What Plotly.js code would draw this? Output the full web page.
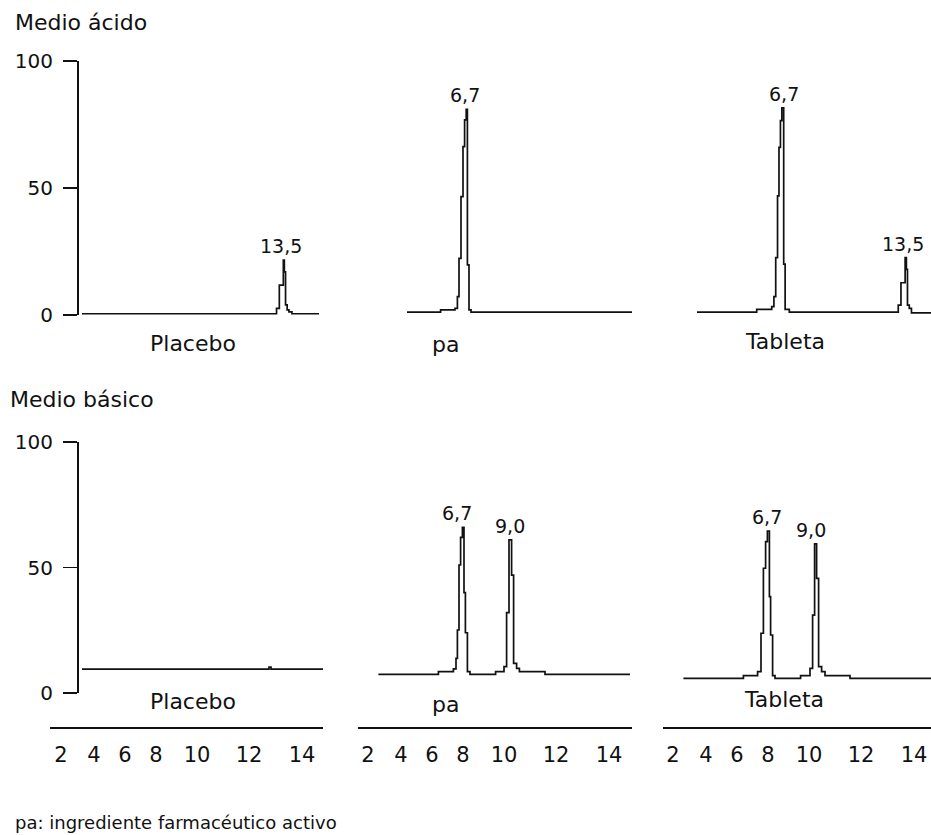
<!DOCTYPE html>
<html>
<head>
<meta charset="utf-8">
<script src="https://cdn.plot.ly/plotly-3.0.1.min.js"></script>
<style>html,body{margin:0;padding:0;background:#fff;}#chart{width:931px;height:835px;}</style>
</head>
<body>
<div id="chart"></div>
<script>
// ---- Data (retention time vs. relative response) ----
// Medio ácido
const acidPlaceboX = [3.42, 13.13, 13.27, 13.47, 13.52, 13.58, 13.66, 13.75, 13.9, 15.25];
const acidPlaceboY = [0.5, 2.6, 11.8, 21.6, 17, 4, 2, 1.2, 0.5, 0.5];
const acidPaX = [3.7, 5.38, 6.1, 6.22, 6.3, 6.4, 6.5, 6.58, 6.66, 6.72, 6.8, 6.9, 14.95];
const acidPaY = [1.1, 2.0, 2.6, 7.2, 22.3, 46.6, 66.3, 76.8, 81, 19.7, 2.0, 1.1, 1.1];
const acidTabX = [1.95, 5.25, 6.08, 6.2, 6.3, 6.4, 6.48, 6.56, 6.64, 6.74, 6.82, 7.05, 13.07, 13.22, 13.45, 13.52, 13.58, 13.68, 13.8, 14.88];
const acidTabY = [1.1, 2.2, 3.3, 7.2, 22.6, 46.9, 66, 76.5, 81.6, 20, 2.2, 1.1, 3.9, 12.7, 22.6, 18, 3.9, 2.6, 0.8, 0.8];
// Medio básico
const basicPlaceboX = [3.05, 12.4, 12.5, 15.55];
const basicPlaceboY = [9.5, 10.3, 9.5, 9.5];
const basicPaX = [2.52, 5.52, 6.27, 6.4, 6.47, 6.55, 6.63, 6.72, 6.8, 6.87, 6.97, 7.1, 8.38, 8.8, 8.93, 9.05, 9.18, 9.28, 9.43, 9.57, 10.85, 15.1];
const basicPaY = [7.4, 8.5, 9.6, 13.8, 25.1, 51, 62, 66, 40, 24, 8.5, 7.4, 8.5, 10.5, 32, 61, 47, 11.8, 9.8, 8.5, 7.4, 7.4];
const basicTabX = [2.52, 5.52, 6.23, 6.4, 6.52, 6.63, 6.72, 6.82, 6.88, 6.98, 7.1, 8.38, 8.85, 8.98, 9.08, 9.18, 9.28, 9.43, 9.6, 10.85, 14.9];
const basicTabY = [5.8, 6.9, 8.5, 23.8, 49.7, 60.3, 64.5, 38.4, 23.1, 6.9, 5.8, 6.9, 9.8, 31, 59.4, 45.7, 10.5, 8.5, 6.9, 5.8, 5.8];

// Peak labels
const peakLabelText = ['13,5', '6,7', '6,7', '13,5', '6,7', '9,0', '6,7', '9,0'];
const peakLabelAxis = ['', '2', '3', '3', '5', '5', '6', '6'];
const peakLabelX = [13.5, 6.7, 6.7, 13.5, 6.7, 9.0, 6.7, 9.0];
const peakLabelY = [21.6, 81, 81.6, 22.6, 66, 61, 64.5, 59.4];

// Axis ticks
const yTickVals = [0, 50, 100];
const yTickText = ['0', '50', '100'];
const xTickVals = [2, 3.65, 5.2, 6.75, 8.8, 11.4, 14.05];
const xTickText = ['2', '4', '6', '8', '10', '12', '14'];

// Panel and section titles
const panelNames = ['Placebo', 'pa', 'Tableta'];
const sectionTitles = ['Medio ácido', 'Medio básico'];
const footnote = 'pa: ingrediente farmacéutico activo';

// ---- Layout helpers (pixel -> paper) ----
const W = 931, H = 835;
const px = v => v / W;
const py = v => 1 - v / H;
const FONT = 'DejaVu Sans, Verdana, sans-serif';
const INK = '#111';

const line = {color: INK, width: 1.7, shape: 'hv'};
const traces = [
  {x: acidPlaceboX, y: acidPlaceboY, xaxis: 'x', yaxis: 'y'},
  {x: acidPaX, y: acidPaY, xaxis: 'x2', yaxis: 'y2'},
  {x: acidTabX, y: acidTabY, xaxis: 'x3', yaxis: 'y3'},
  {x: basicPlaceboX, y: basicPlaceboY, xaxis: 'x4', yaxis: 'y4'},
  {x: basicPaX, y: basicPaY, xaxis: 'x5', yaxis: 'y5'},
  {x: basicTabX, y: basicTabY, xaxis: 'x6', yaxis: 'y6'}
].map(t => Object.assign({type: 'scatter', mode: 'lines', line: line, hoverinfo: 'x+y'}, t));

const topDom = [py(315), py(61)];
const botDom = [py(693), py(442)];

const hiddenX = (d, r) => ({domain: d, range: r, visible: false, fixedrange: true});
const tickX = (d, r) => ({
  domain: d, range: r, anchor: 'free', position: py(727),
  showline: true, linecolor: INK, linewidth: 1.7,
  showgrid: false, zeroline: false, ticks: '',
  tickvals: xTickVals, ticktext: xTickText,
  tickfont: {family: FONT, size: 21, color: INK},
  ticklabelstandoff: 8
});
const shownY = d => ({
  domain: d, range: [0, 100], anchor: 'free', position: px(77),
  showline: true, linecolor: INK, linewidth: 1.7,
  showgrid: false, zeroline: false,
  ticks: 'outside', ticklen: 14, tickwidth: 1.7, tickcolor: INK,
  tickvals: yTickVals, ticktext: yTickText,
  tickfont: {family: FONT, size: 20, color: INK},
  ticklabelstandoff: 6
});
const hiddenY = d => ({domain: d, range: [0, 100], visible: false});

const peakShift = [-3, -2, 1, -3, -5, 2, 0, -2];
const annotations = [];
peakLabelText.forEach((t, i) => {
  annotations.push({
    xref: 'x' + peakLabelAxis[i], yref: 'y' + peakLabelAxis[i],
    x: peakLabelX[i], y: peakLabelY[i], text: t, showarrow: false,
    xanchor: 'center', yanchor: 'bottom', yshift: 1, xshift: peakShift[i],
    font: {family: FONT, size: 19, color: INK}
  });
});
const paperText = (text, x, y, xanchor, size) => ({
  xref: 'paper', yref: 'paper', x: px(x), y: py(y), text: text, showarrow: false,
  xanchor: xanchor, yanchor: 'middle', font: {family: FONT, size: size, color: INK}
});
annotations.push(paperText(sectionTitles[0], 13, 23, 'left', 22));
annotations.push(paperText(sectionTitles[1], 8, 399, 'left', 22));
annotations.push(paperText(panelNames[0], 193, 343, 'center', 22));
annotations.push(paperText(panelNames[1], 445, 344, 'center', 22));
annotations.push(paperText(panelNames[2], 785, 341, 'center', 22));
annotations.push(paperText(panelNames[0], 193, 701, 'center', 22));
annotations.push(paperText(panelNames[1], 445, 704, 'center', 22));
annotations.push(paperText(panelNames[2], 784, 699, 'center', 22));
annotations.push(paperText(footnote, 13, 822, 'left', 18));

const layout = {
  width: W, height: H,
  margin: {l: 0, r: 0, t: 0, b: 0},
  paper_bgcolor: '#fff', plot_bgcolor: 'rgba(0,0,0,0)',
  showlegend: false,
  font: {family: FONT, color: INK},
  xaxis: hiddenX([px(82), px(319)], [3.42, 15.25]),
  xaxis2: hiddenX([px(407), px(632)], [3.7, 14.95]),
  xaxis3: hiddenX([px(697), px(931)], [1.95, 14.88]),
  xaxis4: tickX([px(50), px(323)], [1.45, 15.1]),
  xaxis5: tickX([px(358), px(632)], [1.5, 15.2]),
  xaxis6: tickX([px(663), px(931)], [1.5, 14.9]),
  yaxis: shownY(topDom),
  yaxis2: hiddenY(topDom),
  yaxis3: hiddenY(topDom),
  yaxis4: shownY(botDom),
  yaxis5: hiddenY(botDom),
  yaxis6: hiddenY(botDom),
  annotations: annotations
};

Plotly.newPlot('chart', traces, layout, {displayModeBar: false, staticPlot: true});
</script>
</body>
</html>
